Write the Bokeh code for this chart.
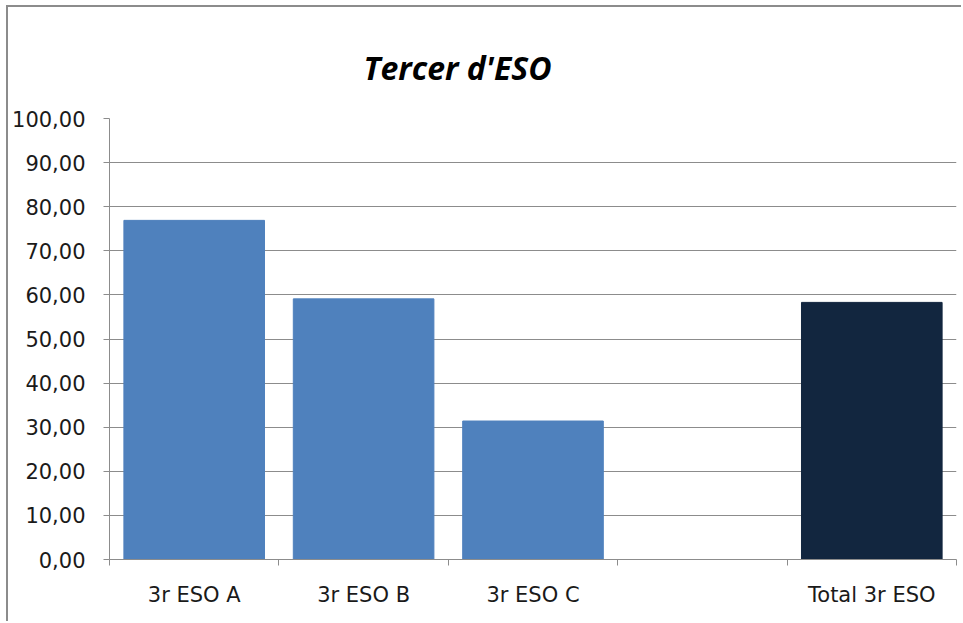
from bokeh.plotting import figure
from bokeh.models import FixedTicker, Range1d
from bokeh.embed import file_html
from bokeh.resources import INLINE

categories = ["3r ESO A", "3r ESO B", "3r ESO C", "", "Total 3r ESO"]
values = [76.9, 59.1, 31.4, None, 58.3]
colors = ["#4f81bd", "#4f81bd", "#4f81bd", "#4f81bd", "#12263f"]
y_ticks = [0, 10, 20, 30, 40, 50, 60, 70, 80, 90, 100]
title = "Tercer d'ESO"

xs = [i + 0.5 for i in range(len(categories))]
bx = [x for x, v in zip(xs, values) if v is not None]
bv = [v for v in values if v is not None]
bc = [c for c, v in zip(colors, values) if v is not None]

p = figure(width=955, height=616, output_backend="svg", toolbar_location=None,
           x_range=Range1d(0, len(categories)), y_range=Range1d(0, 100),
           min_border_left=101, min_border_right=7, min_border_top=111, min_border_bottom=64)

p.vbar(x=bx, top=bv, width=0.83, color=bc, line_color=bc)

p.title.text = title
p.title.text_font = "Open Sans"
p.title.text_font_size = "32px"
p.title.text_font_style = "bold italic"
p.title.text_color = "#000000"
p.title.align = "left"
p.title.offset = 254
p.title.standoff = 59

p.outline_line_color = None
p.border_fill_color = "#ffffff"
p.xgrid.grid_line_color = None
p.ygrid.grid_line_color = "#8c8c8c"
p.ygrid.grid_line_width = 1
p.ygrid.ticker = FixedTicker(ticks=y_ticks)

ya = p.yaxis[0]
ya.ticker = FixedTicker(ticks=y_ticks)
ya.major_label_overrides = {t: f"{t:.2f}".replace(".", ",") for t in y_ticks}
ya.axis_line_color = "#8c8c8c"
ya.major_tick_line_color = "#8c8c8c"
ya.major_tick_out = 6
ya.major_tick_in = 0
ya.minor_tick_line_color = None
ya.major_label_text_font = "DejaVu Sans"
ya.major_label_text_font_size = "21px"
ya.major_label_text_color = "#1a1a1a"
ya.major_label_standoff = 18

xa = p.xaxis[0]
xa.ticker = FixedTicker(ticks=xs, minor_ticks=list(range(len(categories) + 1)))
xa.major_label_overrides = {x: c for x, c in zip(xs, categories)}
xa.axis_line_color = "#8c8c8c"
xa.major_tick_line_color = None
xa.minor_tick_line_color = "#8c8c8c"
xa.minor_tick_out = 6
xa.minor_tick_in = 0
xa.major_label_text_font = "DejaVu Sans"
xa.major_label_text_font_size = "21px"
xa.major_label_text_color = "#1a1a1a"
xa.major_label_standoff = 17

p.styles = {"border-left": "2px solid #8c8c8c", "border-top": "2px solid #8c8c8c",
            "margin-left": "6px", "margin-top": "5px"}

open("out.html", "w").write(file_html(p, INLINE))
